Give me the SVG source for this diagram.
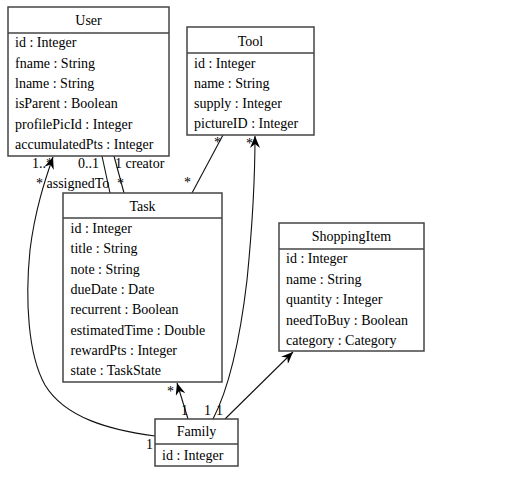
<svg xmlns="http://www.w3.org/2000/svg" width="511" height="496" viewBox="0 0 511 496">
<style>
  text { font-family: "Liberation Serif", "Times New Roman", serif; font-size: 14px; fill: #000; }
  .box { fill: #fff; stroke: #444; stroke-width: 1.5; }
  .sep { stroke: #444; stroke-width: 1.5; }
  .title { text-anchor: middle; }
  .conn { fill: none; stroke: #111; stroke-width: 1.1; }
</style>
<defs>
  <marker id="arrow" viewBox="0 0 12 10" refX="12" refY="5" markerWidth="12" markerHeight="10" markerUnits="userSpaceOnUse" orient="auto">
    <path d="M0,0 L12,5 L0,10 L4,5 z" fill="#000"/>
  </marker>
</defs>
<rect width="511" height="496" fill="#fff"/>

<g id="connectors">
  <path class="conn" d="M155,436 C110,430 65,418 45,385 C28,355 25,300 30,250 C35,210 45,180 53,157" marker-end="url(#arrow)"/>
  <line class="conn" x1="102" y1="156" x2="110" y2="193"/>
  <line class="conn" x1="114" y1="156" x2="124" y2="193"/>
  <line class="conn" x1="223" y1="135" x2="192" y2="193"/>
  <line class="conn" x1="188" y1="419" x2="177" y2="383" marker-end="url(#arrow)"/>
  <path class="conn" d="M213,419 C228,390 240,340 247,280 C252,230 255,180 255,136" marker-end="url(#arrow)"/>
  <line class="conn" x1="225" y1="419" x2="293" y2="352" marker-end="url(#arrow)"/>
  <text x="32" y="168">1..*</text>
  <text x="78" y="168">0..1</text>
  <text x="115" y="168">1 creator</text>
  <text x="36" y="187.5">* assignedTo</text>
  <text x="117" y="187.5">*</text>
  <text x="184" y="187">*</text>
  <text x="214" y="147">*</text>
  <text x="246" y="148">*</text>
  <text x="167" y="396">*</text>
  <text x="181" y="415">1</text>
  <text x="204" y="415">1</text>
  <text x="216" y="415">1</text>
  <text x="146" y="449">1</text>
</g>

<g id="User">
  <rect class="box" x="8" y="7" width="161" height="149"/>
  <line class="sep" x1="8" y1="33" x2="169" y2="33"/>
  <text class="title" x="88.5" y="25.3">User</text>
  <text x="15" y="47.3">id : Integer</text>
  <text x="15" y="67.6">fname : String</text>
  <text x="15" y="88">lname : String</text>
  <text x="15" y="108.3">isParent : Boolean</text>
  <text x="15" y="128.6">profilePicId : Integer</text>
  <text x="15" y="149">accumulatedPts : Integer</text>
</g>

<g id="Tool">
  <rect class="box" x="187" y="27" width="127" height="108"/>
  <line class="sep" x1="187" y1="53" x2="314" y2="53"/>
  <text class="title" x="250.5" y="46">Tool</text>
  <text x="194" y="67.5">id : Integer</text>
  <text x="194" y="87.8">name : String</text>
  <text x="194" y="108.1">supply : Integer</text>
  <text x="194" y="128.4">pictureID : Integer</text>
</g>

<g id="Task">
  <rect class="box" x="63" y="193" width="159" height="189"/>
  <line class="sep" x1="63" y1="218" x2="222" y2="218"/>
  <text class="title" x="142.5" y="211">Task</text>
  <text x="70.5" y="233">id : Integer</text>
  <text x="70.5" y="253.3">title : String</text>
  <text x="70.5" y="273.6">note : String</text>
  <text x="70.5" y="293.9">dueDate : Date</text>
  <text x="70.5" y="314.2">recurrent : Boolean</text>
  <text x="70.5" y="334.5">estimatedTime : Double</text>
  <text x="70.5" y="354.8">rewardPts : Integer</text>
  <text x="70.5" y="375.1">state : TaskState</text>
</g>

<g id="ShoppingItem">
  <rect class="box" x="279" y="223" width="145" height="128"/>
  <line class="sep" x1="279" y1="249" x2="424" y2="249"/>
  <text class="title" x="351.5" y="241">ShoppingItem</text>
  <text x="286" y="263.3">id : Integer</text>
  <text x="286" y="283.7">name : String</text>
  <text x="286" y="304.1">quantity : Integer</text>
  <text x="286" y="324.5">needToBuy : Boolean</text>
  <text x="286" y="344.9">category : Category</text>
</g>

<g id="Family">
  <rect class="box" x="155" y="419" width="83" height="47"/>
  <line class="sep" x1="155" y1="444" x2="238" y2="444"/>
  <text class="title" x="196.5" y="436">Family</text>
  <text x="162" y="460">id : Integer</text>
</g>
</svg>
